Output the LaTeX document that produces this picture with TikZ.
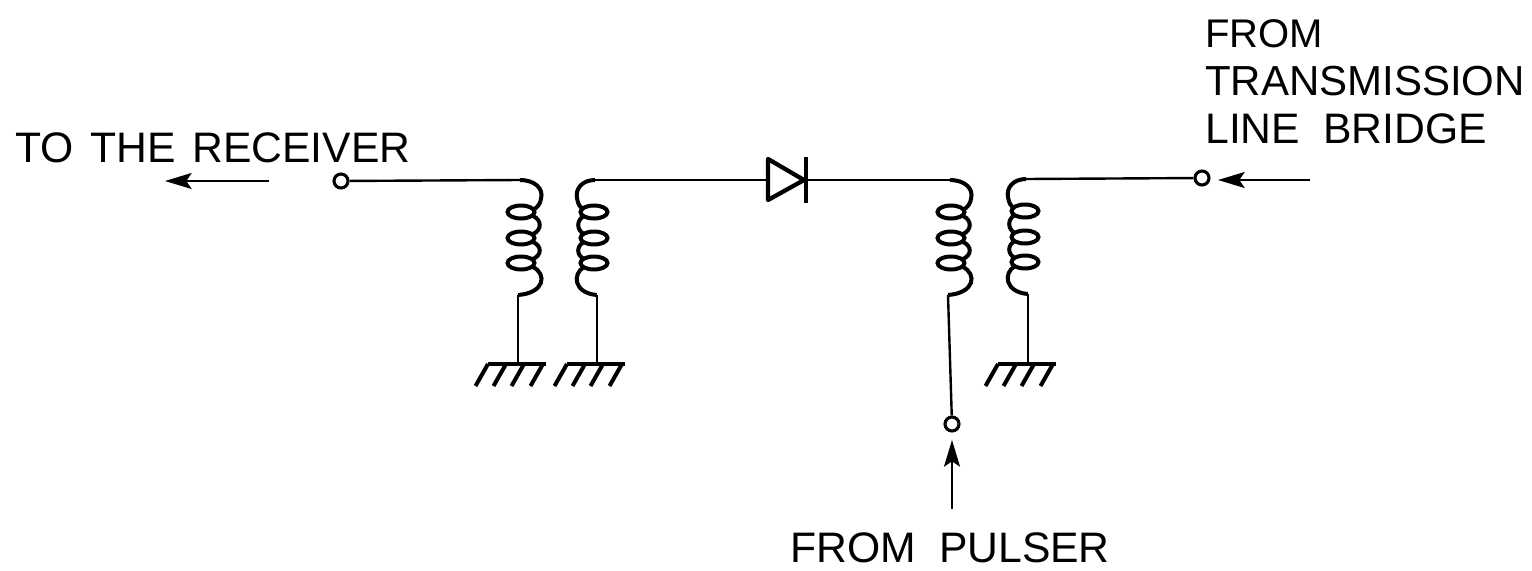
\documentclass[tikz,border=0pt]{standalone}
\usepackage{fontspec}
\setmainfont{Liberation Sans}
\newfontfamily\letwide[WordSpace=2]{Liberation Sans}
\newfontfamily\letnarrow[WordSpace=1.4]{Liberation Sans}
\usetikzlibrary{arrows.meta}
\newcommand{\coilat}[5]{% name, x, y, xscale, spine factor
  \begin{scope}[shift={(#2,#3)},xscale=#4,coilline]
    \coordinate (#1top) at (0,0);
    \coordinate (#1bot) at (-2,115);
    \draw (1,32) ellipse [x radius=13.5,y radius=6.5];
    \draw (1,58) ellipse [x radius=13.5,y radius=6.5];
    \draw (1,83) ellipse [x radius=13.5,y radius=6.5];
    \begin{scope}[xscale=#5]
      \draw (0,0) .. controls (14,0) and (24,8) .. (21,19) .. controls (20,24) and (18,27) .. (13,30);
      \draw (13,36) .. controls (22,40) and (22,50) .. (13,54);
      \draw (13,62) .. controls (22,66) and (22,75) .. (13,79);
      \draw (13,87) .. controls (27,94) and (25,113) .. (-2,115);
    \end{scope}
  \end{scope}}
\newcommand{\groundat}[3]{% name, x, y
  \coordinate (#1) at (#2,#3);
  \draw[coilline] (#2-30,#3) -- (#2+28,#3);
  \foreach \dx in {-30,-12,6,25}
    {\draw[coilline] (#2+\dx,#3) -- (#2+\dx-12.5,#3+22);}}
\tikzset{
  x=0.75pt,y=-0.75pt,
  wire/.style={line width=1.8pt,black},
  coilline/.style={line width=3pt,black},
  terminal/.style={circle,draw=black,line width=2.3pt,fill=white,minimum size=10.5pt,inner sep=0pt},
  flow/.style={line width=1.4pt,black,-{Stealth[length=20pt,width=12pt,inset=4pt]}},
  lettering/.style={anchor=base west,inner sep=0pt,black},
}
\begin{document}
\begin{tikzpicture}
\useasboundingbox (0,0) rectangle (1532,571);
\coilat{a}{520}{180}{1}{1}
\coilat{b}{595}{180}{-1}{0.85}
\coilat{c}{950}{180}{1}{1}
\coilat{d}{1026}{179}{-1}{0.85}
\groundat{ga}{518}{364}
\groundat{gb}{597}{364}
\groundat{gd}{1028}{364}
\coordinate (dl) at (768,180);
\coordinate (dr) at (804,180);
\coordinate (dt) at (768,159);
\coordinate (db) at (768,200);
\draw[wire] (bbot) -- (gb);
\draw[wire] (abot) -- (ga);
\draw[wire] (dbot) -- (gd);
\node[terminal] (t1) at (341,181) {};
\node[terminal] (t2) at (1202,178) {};
\node[terminal] (t3) at (952,424) {};
\draw[wire] (t1) -- (atop);
\draw[wire] (btop) -- (dl);
\draw[wire] (dr) -- (ctop);
\draw[wire] (dtop) -- (t2);
\draw[wire] (cbot) -- (t3);
\draw[line width=3.2pt,line join=round,fill=white] (dt) -- (db) -- (dr) -- cycle;
\draw[line width=3.2pt] (806,157) -- (806,203);
\coordinate (a1s) at (269,181); \coordinate (a1e) at (165,181);
\coordinate (a2s) at (1310,180); \coordinate (a2e) at (1218,180);
\coordinate (a3s) at (952,509); \coordinate (a3e) at (952,440);
\draw[flow] (a1s) -- (a1e);
\draw[flow] (a2s) -- (a2e);
\draw[flow] (a3s) -- (a3e);
\node[lettering,font=\fontsize{32}{32}\selectfont\letnarrow] (l1) at (15,162) {TO THE RECEIVER};
\node[lettering,font=\fontsize{30}{30}\selectfont] (l2) at (1205,47) {FROM};
\node[lettering,font=\fontsize{31.5}{31.5}\selectfont] (l3) at (1205,95) {TRANSMISSION};
\node[lettering,font=\fontsize{32}{32}\selectfont\letwide] (l4) at (1205,143) {LINE BRIDGE};
\node[lettering,font=\fontsize{32}{32}\selectfont\letwide] (l5) at (790,562) {FROM PULSER};
\end{tikzpicture}
\end{document}
